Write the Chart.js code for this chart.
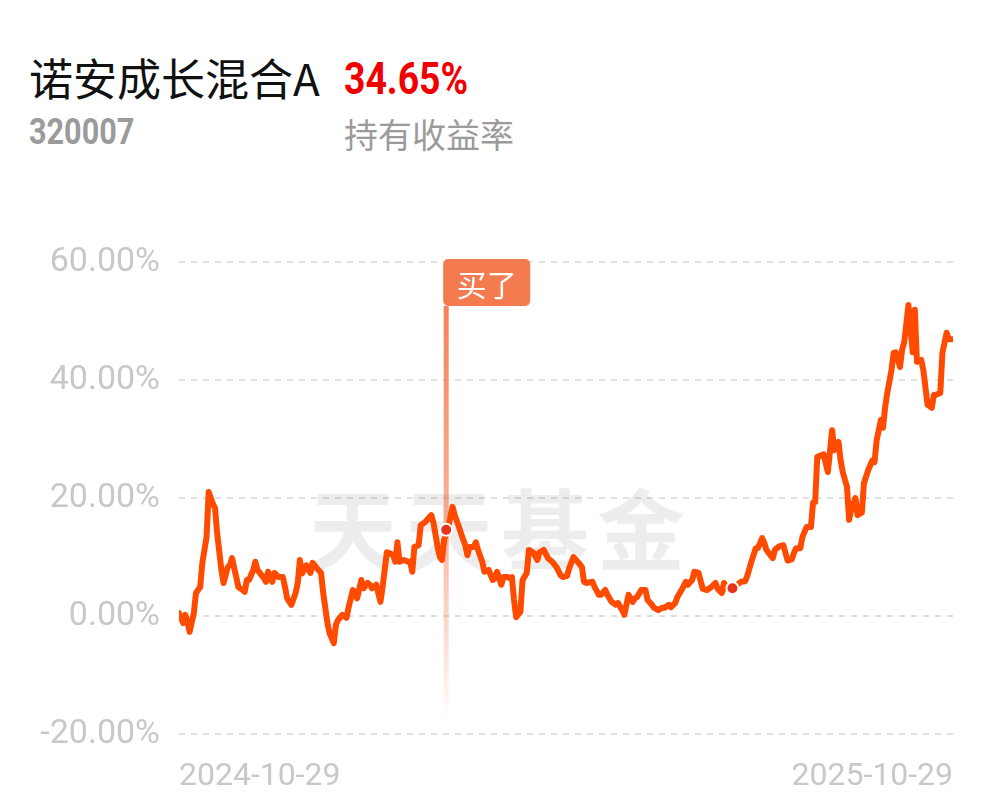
<!DOCTYPE html>
<html>
<head>
<meta charset="utf-8">
<script src="https://cdn.jsdelivr.net/npm/chart.js@4.4.0/dist/chart.umd.min.js"></script>
<style>
    html, body { margin: 0; padding: 0; background: #fff; }
    body { width: 997px; height: 802px; position: relative; overflow: hidden; }
    .txt { position: absolute; white-space: nowrap; line-height: 1; }
    .name { left: 29px; top: 55px; font-size: 44px; color: #111; font-family: "Noto Sans CJK SC", sans-serif; }
    .rate { left: 344px; top: 56px; font-size: 45px; font-weight: 700; color: #f00000; font-family: Roboto, sans-serif; transform: scaleX(0.83); transform-origin: left top; }
    .code { left: 29px; top: 114px; font-size: 36px; font-weight: 700; color: #9b9b9b; font-family: Roboto, sans-serif; transform: scaleX(0.85); transform-origin: left top; }
    .label { left: 344px; top: 117px; font-size: 34px; color: #9b9b9b; font-family: "Noto Sans CJK SC", sans-serif; }
    #wrap { position: absolute; left: 0; top: 0; width: 997px; height: 802px; }
</style>
</head>
<body>
<div class="txt name">诺安成长混合A</div>
<div class="txt rate">34.65%</div>
<div class="txt code">320007</div>
<div class="txt label">持有收益率</div>
<div id="wrap"><canvas id="fundChart" width="997" height="802"></canvas></div>
<script>
// days since 2024-10-29, and holding return (%)
const days = [
    0, 2, 3, 4, 5, 7, 8, 10, 11, 13,
    14, 16, 17, 18, 20, 21, 23, 24, 25, 27,
    28, 30, 31, 32, 33, 35, 36, 37, 39, 40,
    41, 42, 44, 45, 47, 49, 50, 51, 53, 55,
    56, 57, 58, 60, 62, 63, 65, 67, 68, 70,
    71, 73, 74, 75, 77, 79, 80, 82, 83, 84,
    86, 87, 89, 90, 91, 93, 95, 96, 98, 99,
    101, 102, 103, 104, 106, 108, 109, 110, 111, 113,
    114, 116, 117, 119, 120, 122, 123, 124, 125, 127,
    129, 130, 132, 133, 135, 136, 137, 139, 140, 141,
    143, 144, 146, 148, 149, 150, 152, 153, 155, 156,
    157, 158, 159, 161, 162, 164, 165, 167, 169, 170,
    172, 174, 175, 176, 178, 180, 181, 183, 184, 186,
    188, 190, 191, 192, 195, 196, 198, 199, 201, 202,
    204, 206, 207, 209, 210, 212, 214, 215, 216, 218,
    220, 221, 223, 224, 226, 228, 229, 231, 232, 234,
    235, 237, 239, 240, 242, 243, 245, 247, 249, 251,
    253, 254, 256, 257, 259, 261, 263, 265, 267, 268,
    270, 272, 273, 275, 276, 277, 280, 281, 283, 285,
    287, 289, 290, 291, 293, 294, 296, 298, 299, 300,
    301, 304, 305, 306, 308, 309, 311, 312, 313, 315,
    316, 317, 319, 320, 322, 323, 325, 327, 328, 329,
    331, 332, 333, 334, 336, 337, 338, 340, 341, 342,
    344, 346, 347, 348, 350, 351, 353, 355, 356, 357,
    359, 360, 362, 363, 365
];
const rates = [
    0.5, -1.2, 0.2, -1.0, -2.7, 0.5, 3.9, 4.9, 9.0, 13.4,
    21.0, 19.0, 18.3, 14.0, 7.8, 5.6, 8.3, 8.6, 9.8, 6.6,
    4.9, 4.4, 4.1, 6.1, 6.1, 7.8, 9.2, 7.8, 6.9, 6.4,
    5.8, 7.5, 5.8, 7.3, 6.6, 6.6, 4.9, 3.0, 1.9, 3.9,
    5.6, 9.5, 7.2, 8.6, 7.3, 9.0, 8.1, 7.3, 3.9, -1.2,
    -2.9, -4.6, -1.5, -0.7, 0.2, -0.3, 1.5, 4.4, 4.1, 3.0,
    6.1, 4.7, 5.6, 5.3, 4.7, 5.3, 2.4, 4.9, 10.8, 10.7,
    10.3, 9.2, 12.5, 9.2, 9.5, 9.2, 9.2, 7.5, 11.7, 12.0,
    15.4, 15.9, 16.3, 17.1, 15.8, 11.6, 10.0, 9.5, 12.9, 15.1,
    18.5, 17.1, 15.1, 14.0, 12.0, 10.3, 11.7, 11.7, 12.5, 11.2,
    9.2, 7.5, 7.8, 6.1, 6.4, 7.5, 5.3, 6.6, 6.6, 6.4,
    6.6, 2.7, -0.2, 0.7, 6.1, 7.3, 11.2, 10.8, 9.5, 10.8,
    11.2, 9.8, 9.5, 9.2, 8.3, 6.9, 6.6, 6.8, 8.1, 10.0,
    9.2, 8.3, 5.8, 5.6, 5.8, 4.9, 3.6, 3.6, 4.4, 3.6,
    2.4, 1.9, 2.2, 1.0, 0.2, 3.6, 2.4, 3.0, 3.2, 4.4,
    4.4, 2.7, 1.9, 1.4, 1.0, 1.4, 1.4, 1.9, 1.5, 2.2,
    3.2, 4.4, 5.8, 5.3, 6.1, 7.5, 7.3, 4.6, 4.4, 4.9,
    5.6, 4.6, 3.9, 5.6, 4.5, 4.7, 5.2, 5.8, 5.9, 6.8,
    9.3, 11.5, 11.5, 13.2, 12.4, 11.2, 9.8, 11.2, 11.8, 12.0,
    9.4, 9.6, 10.7, 11.5, 11.5, 13.4, 15.1, 15.1, 19.2, 19.3,
    27.0, 27.4, 25.9, 24.4, 31.5, 28.1, 29.5, 26.4, 24.4, 21.9,
    16.3, 18.0, 20.0, 17.1, 17.5, 22.5, 24.7, 26.4, 26.1, 29.8,
    33.2, 31.9, 35.4, 37.8, 41.7, 44.6, 44.7, 42.2, 45.1, 46.4,
    52.7, 44.7, 51.9, 43.1, 43.4, 41.7, 35.8, 35.3, 37.5, 37.5,
    37.8, 44.6, 48.0, 46.9, 46.9
];

// trade markers
const markerDays = [126, 261];
const markerRates = [14.6, 4.7];
const buyDay = 126;
const buyText = '买了';

const yTicks = [-20, 0, 20, 40, 60];
const xTickDays = [0, 365];
const xTickLabels = ['2024-10-29', '2025-10-29'];
const watermark = '天天基金';

const LINE_COLOR = '#ff4b00';
const FLAG_COLOR = '#f47b50';

// watermark, buy line and flag, drawn under the curve
const decorPlugin = {
    id: 'decor',
    beforeDatasetsDraw(chart) {
        const { ctx, chartArea, scales } = chart;
        ctx.save();

        // watermark
        ctx.fillStyle = 'rgba(0,0,0,0.07)';
        ctx.font = 'bold 88px "Noto Sans CJK SC"';
        ctx.textAlign = 'center';
        ctx.textBaseline = 'middle';
        const chars = watermark.split('');
        const cx = 497, step = 96;
        chars.forEach((c, i) => {
            ctx.fillText(c, cx + (i - (chars.length - 1) / 2) * step, 530);
        });

        // buy line with fade
        const x = scales.x.getPixelForValue(buyDay);
        const top = chartArea.top - 3;
        const flagH = 47;
        const g = ctx.createLinearGradient(0, top + flagH, 0, chartArea.bottom - 10);
        g.addColorStop(0, 'rgba(244,123,80,0.95)');
        g.addColorStop(0.55, 'rgba(244,123,80,0.55)');
        g.addColorStop(1, 'rgba(244,123,80,0)');
        ctx.fillStyle = g;
        ctx.fillRect(x - 2.5, top + flagH, 5, chartArea.bottom - 10 - top - flagH);

        // flag
        ctx.fillStyle = FLAG_COLOR;
        ctx.beginPath();
        ctx.roundRect(x - 3, top, 87, flagH, 5);
        ctx.fill();
        ctx.fillStyle = '#fff';
        ctx.font = '30px "Noto Sans CJK SC"';
        ctx.textAlign = 'center';
        ctx.fillText(buyText, x - 3 + 87 / 2, top + flagH / 2 + 2);

        ctx.restore();
    }
};

new Chart(document.getElementById('fundChart').getContext('2d'), {
    type: 'line',
    data: {
        datasets: [
            {
                label: 'markers',
                data: markerDays.map((d, i) => ({ x: d, y: markerRates[i] })),
                showLine: false,
                pointRadius: 6,
                pointBackgroundColor: '#e8341c',
                pointBorderColor: '#ffffff',
                pointBorderWidth: 2,
                order: 0,
            },
            {
                label: '持有收益率',
                data: days.map((d, i) => ({ x: d, y: rates[i] })),
                borderColor: LINE_COLOR,
                borderWidth: 6,
                borderJoinStyle: 'round',
                borderCapStyle: 'round',
                pointRadius: 0,
                tension: 0,
                fill: false,
                order: 1,
            }
        ]
    },
    options: {
        responsive: false,
        animation: false,
        layout: { padding: { top: 262, right: 44, bottom: 0, left: 0 } },
        plugins: { legend: { display: false }, tooltip: { enabled: false } },
        scales: {
            x: {
                type: 'linear',
                min: xTickDays[0],
                max: xTickDays[xTickDays.length - 1],
                grid: { display: false },
                border: { display: false },
                afterFit: s => { s.height = 68; },
                afterBuildTicks: s => { s.ticks = xTickDays.map(v => ({ value: v })); },
                ticks: {
                    autoSkip: false,
                    maxRotation: 0,
                    align: 'inner',
                    padding: 16,
                    color: '#c8c8c8',
                    font: { family: 'Roboto', size: 32 },
                    callback: v => xTickLabels[xTickDays.indexOf(v)] || ''
                }
            },
            y: {
                min: yTicks[0],
                max: yTicks[yTicks.length - 1],
                afterFit: s => { s.width = 179; },
                afterBuildTicks: s => { s.ticks = yTicks.map(v => ({ value: v })); },
                grid: {
                    color: '#e0e0e0',
                    lineWidth: 2,
                    drawTicks: false,
                },
                border: { display: false, dash: [6, 6] },
                ticks: {
                    padding: 19,
                    color: '#c8c8c8',
                    font: { family: 'Roboto', size: 34 },
                    callback: v => v.toFixed(2) + '%'
                }
            }
        }
    },
    plugins: [decorPlugin]
});
</script>
</body>
</html>
